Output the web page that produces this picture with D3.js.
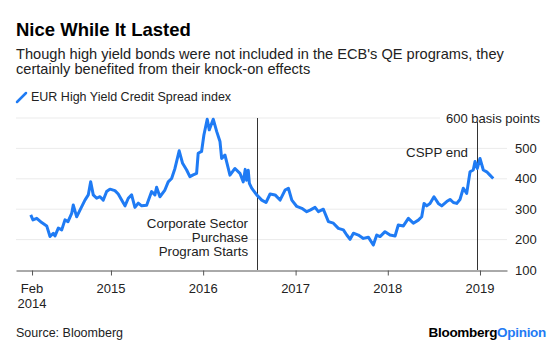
<!DOCTYPE html>
<html>
<head>
<meta charset="utf-8">
<script src="https://cdn.jsdelivr.net/npm/d3@7"></script>
<style>
  body { margin: 0; background: #fff; }
  svg { display: block; font-family: "Liberation Sans", Arial, sans-serif; }
</style>
</head>
<body>
<div id="chart"></div>
<script>
// spread readings, dates as decimal years
var years = [2014.130,2014.154,2014.195,2014.249,2014.303,2014.339,2014.375,2014.393,2014.429,2014.466,2014.501,2014.534,2014.574,2014.591,2014.628,2014.664,2014.718,2014.754,2014.780,2014.808,2014.845,2014.881,2014.917,2014.953,2014.989,
	2015.043,2015.079,2015.116,2015.152,2015.188,2015.224,2015.260,2015.296,2015.333,2015.387,2015.441,2015.477,2015.495,2015.531,2015.585,2015.621,2015.658,2015.694,2015.740,2015.777,2015.821,2015.856,2015.892,2015.929,2015.946,2015.983,
	2016.008,2016.044,2016.066,2016.109,2016.146,2016.182,2016.200,2016.236,2016.290,2016.344,2016.398,2016.434,2016.455,2016.470,2016.488,2016.500,2016.525,2016.579,2016.634,2016.680,2016.724,2016.778,2016.832,2016.886,2016.922,2016.959,
	2017.013,2017.067,2017.121,2017.157,2017.211,2017.247,2017.301,2017.356,2017.410,2017.464,2017.518,2017.555,2017.591,2017.627,2017.681,2017.735,2017.789,2017.843,2017.880,2017.916,2017.970,
	2018.024,2018.079,2018.114,2018.169,2018.223,2018.277,2018.331,2018.368,2018.393,2018.422,2018.458,2018.501,2018.548,2018.585,2018.639,2018.675,2018.711,2018.747,2018.783,2018.819,2018.856,2018.892,2018.927,2018.946,2018.971,
	2019.000,2019.036,2019.073,2019.108,2019.144];

var spread = [281,265,270,256,245,210,221,212,238,232,265,259,286,314,275,297,330,347,390,347,336,341,330,358,366,
	361,350,330,311,336,347,306,320,311,313,358,347,372,341,363,390,401,434,492,451,429,407,413,418,484,490,
	544,596,561,596,556,523,467,478,412,434,418,390,431,395,428,385,369,347,330,322,350,347,330,363,369,330,
	309,303,292,297,306,292,300,259,254,237,232,215,201,221,215,204,208,182,215,210,226,
	215,212,248,245,270,254,264,275,319,311,319,341,319,311,325,332,322,319,332,369,352,423,429,457,434,
	467,429,423,412,401];

var xTicks = [2014.144, 2015, 2016, 2017, 2018, 2019];
var xTickLabels = [["Feb", "2014"], ["2015"], ["2016"], ["2017"], ["2018"], ["2019"]];
var yTicks = [100, 200, 300, 400, 500, 600];

var events = [2016.583, 2018.967];
var eventLabels = [["Corporate Sector", "Purchase", "Program Starts"], ["CSPP end"]];

var blue = "#1f7bf4";

function toDate(t) {
	var y = Math.floor(t);
	var a = Date.UTC(y, 0, 1), b = Date.UTC(y + 1, 0, 1);
	return new Date(a + (t - y) * (b - a));
}

var W = 560, H = 341;
var svg = d3.select("#chart").append("svg")
	.attr("width", W)
	.attr("height", H);

//titles
svg.append("text").attr("x", 16).attr("y", 36)
	.attr("font-size", 18.5).attr("font-weight", "bold").attr("fill", "#000")
	.text("Nice While It Lasted");

var sub = ["Though high yield bonds were not included in the ECB's QE programs, they",
	"certainly benefited from their knock-on effects"];
svg.append("g").selectAll("text")
	.data(sub).enter().append("text")
	.attr("x", 16).attr("y", function (d, i) { return 59 + i * 15; })
	.attr("font-size", 14.6).attr("fill", "#222")
	.text(function (d) { return d; });

//legend
svg.append("line").attr("x1", 17).attr("y1", 102).attr("x2", 26).attr("y2", 93)
	.attr("stroke", blue).attr("stroke-width", 2.5).attr("stroke-linecap", "round");
svg.append("text").attr("x", 31).attr("y", 101)
	.attr("font-size", 12.5).attr("fill", "#222")
	.text("EUR High Yield Credit Spread index");

//scales
var x = d3.scaleUtc()
	.domain([toDate(2013.970), toDate(2019.293)])
	.range([16, 507]);

var y = d3.scaleLinear()
	.domain([100, 600])
	.range([270, 118]);

//gridlines
svg.append("g").selectAll("line")
	.data(yTicks.slice(1)).enter().append("line")
	.attr("x1", x.range()[0])
	.attr("x2", function (d) { return d === 600 ? 440 : x.range()[1]; })
	.attr("y1", function (d) { return y(d); })
	.attr("y2", function (d) { return y(d); })
	.attr("stroke", "#ebebeb").attr("stroke-width", 1);

//y labels on the right
svg.append("g").selectAll("text")
	.data(yTicks).enter().append("text")
	.attr("x", function (d) { return d === 600 ? 540 : 515; })
	.attr("y", function (d) { return y(d); })
	.attr("dy", "0.35em")
	.attr("text-anchor", function (d) { return d === 600 ? "end" : "start"; })
	.attr("font-size", 13).attr("fill", "#222")
	.text(function (d) { return d === 600 ? "600 basis points" : d; });

//event lines
svg.append("g").selectAll("line")
	.data(events).enter().append("line")
	.attr("x1", function (d) { return Math.round(x(toDate(d))) + 0.5; })
	.attr("x2", function (d) { return Math.round(x(toDate(d))) + 0.5; })
	.attr("y1", function (d, i) { return i === 0 ? y(600) : y(600) + 4; })
	.attr("y2", y(100))
	.attr("stroke", "#333").attr("stroke-width", 1);

var evG = svg.append("g");
evG.append("text")
	.attr("text-anchor", "end").attr("font-size", 13.3).attr("fill", "#222")
	.selectAll("tspan").data(eventLabels[0]).enter().append("tspan")
	.attr("x", x(toDate(events[0])) - 9)
	.attr("y", function (d, i) { return 228 + i * 14; })
	.text(function (d) { return d; });
evG.append("text")
	.attr("text-anchor", "end").attr("font-size", 13.3).attr("fill", "#222")
	.attr("x", x(toDate(events[1])) - 9).attr("y", 157)
	.text(eventLabels[1][0]);

//x axis
var xAxis = svg.append("g")
	.attr("transform", "translate(0," + (y(100) + 0.5) + ")")
	.call(d3.axisBottom(x)
		.tickValues(xTicks.map(toDate))
		.tickSize(5)
		.tickSizeOuter(0)
		.tickFormat(""));
xAxis.select(".domain").attr("stroke", "#555");
xAxis.selectAll(".tick line").attr("stroke", "#555");

var xl = svg.append("g").selectAll("text")
	.data(xTicks).enter().append("text")
	.attr("text-anchor", "middle").attr("font-size", 13).attr("fill", "#222");
xl.selectAll("tspan")
	.data(function (d, i) { return xTickLabels[i].map(function (s) { return { t: d, s: s }; }); })
	.enter().append("tspan")
	.attr("x", function (d) { return x(toDate(d.t)); })
	.attr("y", function (d, j) { return 293 + j * 15; })
	.text(function (d) { return d.s; });

//the line
var line = d3.line()
	.x(function (d) { return x(toDate(d[0])); })
	.y(function (d) { return y(d[1]); });

svg.append("path")
	.datum(years.map(function (t, i) { return [t, spread[i]]; }))
	.attr("d", line)
	.attr("fill", "none")
	.attr("stroke", blue)
	.attr("stroke-width", 3)
	.attr("stroke-linejoin", "round");

//footer
svg.append("text").attr("x", 16).attr("y", 337)
	.attr("font-size", 12.5).attr("fill", "#222")
	.text("Source: Bloomberg");
var brand = svg.append("text").attr("x", 546).attr("y", 337)
	.attr("text-anchor", "end").attr("font-size", 13.5).attr("font-weight", "bold")
	.attr("letter-spacing", -0.3);
brand.append("tspan").attr("fill", "#000").text("Bloomberg");
brand.append("tspan").attr("fill", blue).text("Opinion");
</script>
</body>
</html>
